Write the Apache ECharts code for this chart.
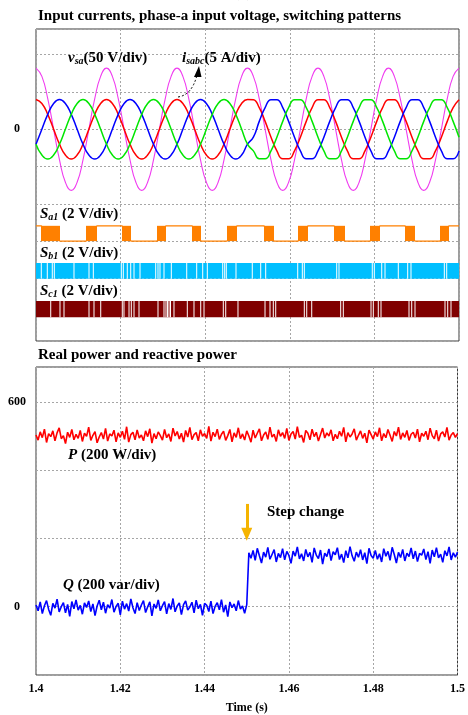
<!DOCTYPE html>
<html>
<head>
<meta charset="utf-8">
<script src="https://cdn.jsdelivr.net/npm/echarts@6/dist/echarts.min.js"></script>
<style>
  html, body { margin: 0; padding: 0; background: #fff; }
  #chart { width: 468px; height: 715px; }
</style>
</head>
<body>
<div id="chart"></div>
<script>
// ---- captured signals ----------------------------------------------------
// time axis (s)
const timeTicks = [1.4, 1.42, 1.44, 1.46, 1.48, 1.5];

// phase-a voltage and line currents, 12 samples per 60 Hz cycle
const waveStart = 1.4;
const waveStep = 1 / 720;
const vsa = [
  82, 71, 41, 0, -41, -71, -82, -71, -41, 0, 41, 71,
  82, 71, 41, 0, -41, -71, -82, -71, -41, 0, 41, 71,
  82, 71, 41, 0, -41, -71, -82, -71, -41, 0, 41, 71,
  82, 71, 41, 0, -41, -71, -82, -71, -41, 0, 41, 71,
  82, 71, 41, 0, -41, -71, -82, -71, -41, 0, 41, 71,
  82, 71, 41, 0, -41, -71, -82, -71, -41, 0, 41, 71,
  82
];
const ia = [
  4, 3.46, 2, 0, -2, -3.46, -4, -3.46, -2, 0, 2, 3.46,
  4, 3.46, 2, 0, -2, -3.46, -4, -3.46, -2, 0, 2, 3.46,
  4, 3.46, 2, 0, -2, -3.46, -4, -3.46, -2, 0, 2, 3.46,
  4, 3.96, 2.9, 1.06, -1.06, -2.9, -3.96, -3.96, -2.9, -1.06, 1.06, 2.9,
  3.96, 3.96, 2.9, 1.06, -1.06, -2.9, -3.96, -3.96, -2.9, -1.06, 1.06, 2.9,
  3.96, 3.96, 2.9, 1.06, -1.06, -2.9, -3.96, -3.96, -2.9, -1.06, 1.06, 2.9,
  3.96
];
const ib = [
  -2, 0, 2, 3.46, 4, 3.46, 2, 0, -2, -3.46, -4, -3.46,
  -2, 0, 2, 3.46, 4, 3.46, 2, 0, -2, -3.46, -4, -3.46,
  -2, 0, 2, 3.46, 4, 3.46, 2, 0, -2, -3.46, -4, -3.46,
  -2, -1.06, 1.06, 2.9, 3.96, 3.96, 2.9, 1.06, -1.06, -2.9, -3.96, -3.96,
  -2.9, -1.06, 1.06, 2.9, 3.96, 3.96, 2.9, 1.06, -1.06, -2.9, -3.96, -3.96,
  -2.9, -1.06, 1.06, 2.9, 3.96, 3.96, 2.9, 1.06, -1.06, -2.9, -3.96, -3.96,
  -2.9
];
const ic = [
  -2, -3.46, -4, -3.46, -2, 0, 2, 3.46, 4, 3.46, 2, 0,
  -2, -3.46, -4, -3.46, -2, 0, 2, 3.46, 4, 3.46, 2, 0,
  -2, -3.46, -4, -3.46, -2, 0, 2, 3.46, 4, 3.46, 2, 0,
  -2, -2.9, -3.96, -3.96, -2.9, -1.06, 1.06, 2.9, 3.96, 3.96, 2.9, 1.06,
  -1.06, -2.9, -3.96, -3.96, -2.9, -1.06, 1.06, 2.9, 3.96, 3.96, 2.9, 1.06,
  -1.06, -2.9, -3.96, -3.96, -2.9, -1.06, 1.06, 2.9, 3.96, 3.96, 2.9, 1.06,
  -1.06
];
const voltsPerDiv = 50;
const ampsPerDiv = 5;

// switch S_a1: windows of fast switching (s) and the level held between them
const sa1Windows = [
  [1.40118, 1.40567], [1.41182, 1.41442], [1.42033, 1.42246], [1.42861, 1.43073],
  [1.43688, 1.43901], [1.44515, 1.44752], [1.45390, 1.45626], [1.46194, 1.46430],
  [1.47045, 1.47305], [1.47896, 1.48132], [1.48723, 1.48960], [1.49551, 1.49764]
];
const sa1Held = [1, 0, 1, 0, 1, 0, 1, 0, 1, 0, 1, 0, 1];

// switches S_b1 and S_c1: instants where the gate stays off (s)
const sb1Gaps = [
  1.40125, 1.40267, 1.40385, 1.40433, 1.40898, 1.41253, 1.41355, 1.42017, 1.42064,
  1.42158, 1.42239, 1.42317, 1.42459, 1.42830, 1.42884, 1.42931, 1.43026, 1.43199,
  1.43563, 1.43799, 1.43941, 1.44050, 1.44414, 1.44461, 1.44499, 1.44728, 1.45113,
  1.45312, 1.45430, 1.46187, 1.46296, 1.46343, 1.47109, 1.47163, 1.47950, 1.47998,
  1.48173, 1.48251, 1.48565, 1.48787, 1.48865, 1.49653, 1.49709
];
const sc1Gaps = [
  1.40348, 1.40567, 1.40662, 1.41253, 1.41371, 1.41530, 1.42040, 1.42080, 1.42199,
  1.42253, 1.42317, 1.42435, 1.42884, 1.43026, 1.43073, 1.43109, 1.43144, 1.43180,
  1.43262, 1.43577, 1.43735, 1.43894, 1.43972, 1.44428, 1.44485, 1.44775, 1.45414,
  1.45532, 1.45610, 1.45667, 1.46343, 1.46400, 1.46518, 1.47203, 1.47265, 1.47920,
  1.47974, 1.48092, 1.48156, 1.48818, 1.48882, 1.48960, 1.49669, 1.49733, 1.49811
];

// real (W) and reactive (var) power, one sample every 0.5 ms
const powerStart = 1.4;
const powerStep = 0.0005;
const realPower = [
  503, 488, 512, 495, 520, 481, 507, 498, 515, 486, 509, 524, 492, 501, 478, 511, 496, 519, 489, 505,
  493, 516, 484, 508, 499, 526, 487, 502, 513, 480, 497, 510, 491, 522, 485, 506, 500, 517, 483, 509,
  496, 514, 490, 527, 482, 504, 511, 489, 518, 494, 503, 486, 515, 498, 521, 479, 507, 492, 512, 501,
  488, 519, 495, 506, 484, 523, 500, 513, 491, 508, 482, 516, 497, 525, 489, 504, 510, 486, 518, 499,
  507, 493, 528, 485, 511, 498, 520, 490, 505, 514, 487, 501, 519, 483, 509, 496, 524, 492, 506, 488,
  515, 500, 482, 517, 494, 508, 521, 486, 503, 512, 490, 526, 497, 505, 484, 518, 499, 510, 493, 522,
  487, 506, 513, 491, 527, 496, 502, 481, 516, 508, 489, 520, 498, 511, 485, 504, 523, 494, 509, 500,
  518, 486, 505, 492, 514, 499, 525, 483, 510, 497, 506, 521, 488, 502, 515, 493, 508, 480, 517, 504,
  491, 512, 498, 524, 486, 507, 495, 519, 502, 484, 513, 500, 526, 490, 509, 496, 516, 487, 505, 511,
  494, 520, 483, 508, 499, 514, 489, 523, 501, 492, 517, 485, 506, 512, 497, 525, 488, 503, 510, 496,
  507
];
const reactivePower = [
  5, -12, 14, -20, 3, 18, -8, -25, 10, -4, 22, -15, 0, 12, -18, 7, -28, 15, -6, 20,
  -10, 4, -22, 11, -2, 17, -14, 8, -26, 2, 19, -9, 13, -19, 6, -4, 21, -16, 1, 10,
  -24, 16, -7, 9, -13, 23, -3, -20, 12, -11, 5, 18, -17, 0, 14, -27, 8, -5, 20, -12,
  3, 15, -21, 9, -8, 24, -15, 2, 11, -23, 6, 17, -10, -1, 13, -18, 19, -6, 7, -25,
  10, 4, -14, 16, -20, 1, 12, -9, 21, -16, 5, -29, 14, -3, 8, -12, 18, -7, 2, -19, 6,
  158, 142, 165, 136, 171, 149, 128, 160, 145, 174, 139, 153, 167, 131, 156, 144, 170, 137, 162, 150,
  127, 163, 148, 175, 140, 155, 134, 168, 146, 159, 130, 172, 151, 141, 166, 125, 157, 147, 169, 135,
  161, 152, 173, 138, 154, 129, 164, 143, 176, 149, 133, 160, 145, 167, 137, 158, 126, 171, 150, 142,
  165, 139, 155, 131, 170, 148, 162, 136, 174, 153, 128, 159, 144, 168, 134, 157, 147, 172, 140, 163,
  132, 156, 151, 169, 138, 161, 127, 166, 146, 173, 143, 154, 130, 164, 149, 175, 137, 158, 145, 160
];
// instant of the reactive-power reference step (s)
const stepTime = 1.45;

// ---- drawing --------------------------------------------------------------
const serif = "'Liberation Serif', 'Times New Roman', serif";
const tMin = timeTicks[0];
const tMax = timeTicks[timeTicks.length - 1];
const tInterval = +(timeTicks[1] - timeTicks[0]).toFixed(4);

// vertical placement of the gate traces in the upper panel (divisions)
const lanes = {
  sa1: { low: -3.0, high: -2.59 },
  sb1: { low: -4.01, high: -3.59 },
  sc1: { low: -5.04, high: -4.61 }
};

const waveTime = i => waveStart + i * waveStep;
const powerTime = i => powerStart + i * powerStep;

const vsaData = vsa.map((v, i) => [waveTime(i), v / voltsPerDiv]);
const iaData = ia.map((v, i) => [waveTime(i), v / ampsPerDiv]);
const ibData = ib.map((v, i) => [waveTime(i), v / ampsPerDiv]);
const icData = ic.map((v, i) => [waveTime(i), v / ampsPerDiv]);
const pData = realPower.map((v, i) => [powerTime(i), v]);
const qData = reactivePower.map((v, i) => [powerTime(i), v]);

// held levels of S_a1 between its switching windows
const sa1Line = [];
sa1Held.forEach((lvl, i) => {
  const from = i === 0 ? tMin : sa1Windows[i - 1][1];
  const to = i === sa1Windows.length ? tMax : sa1Windows[i][0];
  const y = lvl ? lanes.sa1.high : lanes.sa1.low;
  sa1Line.push([from, y], [to, y]);
});

function windowRenderer(lane, color) {
  return function (params, api) {
    const a = api.coord([api.value(0), lane.high]);
    const b = api.coord([api.value(1), lane.low]);
    return {
      type: 'rect',
      shape: { x: a[0], y: a[1], width: Math.max(b[0] - a[0], 1), height: b[1] - a[1] },
      style: { fill: color }
    };
  };
}
function gapRenderer(lane) {
  return function (params, api) {
    const a = api.coord([api.value(0), lane.high]);
    const b = api.coord([api.value(0), lane.low]);
    return {
      type: 'rect',
      shape: { x: a[0] - 0.5, y: a[1], width: 1, height: b[1] - a[1] },
      style: { fill: '#ffffff' }
    };
  };
}

const gridLine = { show: true, lineStyle: { color: '#a6a6a6', type: [2, 2], width: 1 } };
const tickFont = { fontFamily: serif, fontWeight: 'bold', fontSize: 12, color: '#000' };

const main = { fontFamily: serif, fontWeight: 'bold', fontSize: 15, lineHeight: 17, fill: '#000' };
const rich = {
  it: Object.assign({}, main, { fontStyle: 'italic' }),
  sub: { fontFamily: serif, fontWeight: 'bold', fontStyle: 'italic', fontSize: 10, lineHeight: 10, verticalAlign: 'bottom', fill: '#000' },
  b: main
};
function label(x, y, text) {
  return { type: 'text', x: x, y: y, z: 50, style: { text: text, rich: rich, verticalAlign: 'middle', align: 'left' } };
}

const chart = echarts.init(document.getElementById('chart'), null, { renderer: 'canvas' });
chart.setOption({
  animation: false,
  backgroundColor: '#fff',
  grid: [
    { left: 36, top: 29, width: 423, height: 312, show: true, borderColor: '#3a3a3a', borderWidth: 1, backgroundColor: 'transparent' },
    { left: 36, top: 367, width: 423, height: 308, show: true, borderColor: '#3a3a3a', borderWidth: 1, backgroundColor: 'transparent' }
  ],
  xAxis: [
    { gridIndex: 0, type: 'value', min: tMin, max: tMax, interval: tInterval,
      axisLine: { show: false }, axisTick: { show: false }, axisLabel: { show: false }, splitLine: gridLine },
    { gridIndex: 1, type: 'value', min: tMin, max: tMax, interval: tInterval,
      axisLine: { show: false }, axisTick: { show: false },
      axisLabel: Object.assign({ margin: 8, formatter: v => String(+v.toFixed(2)) }, tickFont),
      splitLine: gridLine,
      name: 'Time (s)', nameLocation: 'middle', nameGap: 27,
      nameTextStyle: { fontFamily: serif, fontWeight: 'bold', fontSize: 12, color: '#000' } }
  ],
  yAxis: [
    { gridIndex: 0, type: 'value', min: -5.68, max: 2.69, splitNumber: 8,
      axisLine: { show: false }, axisTick: { show: false },
      axisLabel: Object.assign({ margin: 19, align: 'center', formatter: v => (v === 0 ? '0' : '') }, tickFont),
      splitLine: gridLine },
    { gridIndex: 1, type: 'value', min: -200, max: 702, interval: 200,
      axisLine: { show: false }, axisTick: { show: false },
      axisLabel: Object.assign({ margin: 19, align: 'center', formatter: v => (v === 0 || v === 600 ? String(v) : '') }, tickFont),
      splitLine: gridLine }
  ],
  series: [
    { name: 'vsa', type: 'line', xAxisIndex: 0, yAxisIndex: 0, data: vsaData, smooth: true, showSymbol: false,
      lineStyle: { color: '#f03cf0', width: 1.1 }, z: 3 },
    { name: 'ia', type: 'line', xAxisIndex: 0, yAxisIndex: 0, data: iaData, smooth: true, showSymbol: false,
      lineStyle: { color: '#ff0000', width: 1.5 }, z: 4 },
    { name: 'ib', type: 'line', xAxisIndex: 0, yAxisIndex: 0, data: ibData, smooth: true, showSymbol: false,
      lineStyle: { color: '#0000ff', width: 1.5 }, z: 4 },
    { name: 'ic', type: 'line', xAxisIndex: 0, yAxisIndex: 0, data: icData, smooth: true, showSymbol: false,
      lineStyle: { color: '#00e600', width: 1.5 }, z: 4 },
    { name: 'Sa1 level', type: 'line', xAxisIndex: 0, yAxisIndex: 0, data: sa1Line, showSymbol: false,
      lineStyle: { color: '#ff8000', width: 1.2 }, z: 5 },
    { name: 'Sa1 switching', type: 'custom', xAxisIndex: 0, yAxisIndex: 0, data: sa1Windows,
      renderItem: windowRenderer(lanes.sa1, '#ff8000'), z: 6 },
    { name: 'Sb1', type: 'custom', xAxisIndex: 0, yAxisIndex: 0, data: [[tMin, tMax]],
      renderItem: windowRenderer(lanes.sb1, '#00bfff'), z: 5 },
    { name: 'Sb1 off', type: 'custom', xAxisIndex: 0, yAxisIndex: 0, data: sb1Gaps.map(t => [t]),
      renderItem: gapRenderer(lanes.sb1), z: 6 },
    { name: 'Sc1', type: 'custom', xAxisIndex: 0, yAxisIndex: 0, data: [[tMin, tMax]],
      renderItem: windowRenderer(lanes.sc1, '#800000'), z: 5 },
    { name: 'Sc1 off', type: 'custom', xAxisIndex: 0, yAxisIndex: 0, data: sc1Gaps.map(t => [t]),
      renderItem: gapRenderer(lanes.sc1), z: 6 },
    { name: 'P', type: 'line', xAxisIndex: 1, yAxisIndex: 1, data: pData, showSymbol: false,
      lineStyle: { color: '#ff0000', width: 1.6 }, z: 3 },
    { name: 'Q', type: 'line', xAxisIndex: 1, yAxisIndex: 1, data: qData, showSymbol: false,
      lineStyle: { color: '#0000ff', width: 1.6 }, z: 3,
      markLine: {
        silent: true, symbol: ['none', 'triangle'], symbolSize: [11, 13],
        label: { show: false },
        lineStyle: { color: '#f5b400', width: 3, type: 'solid' },
        data: [[{ coord: [stepTime, 301] }, { coord: [stepTime, 212] }]]
      } }
  ],
  graphic: [
    { type: 'text', x: 243, y: 1, style: { text: '(a)', font: 'bold 15px ' + serif, fill: '#000', align: 'center', verticalAlign: 'bottom' } },
    { type: 'text', x: 38, y: 16, style: { text: 'Input currents, phase-a input voltage, switching patterns', font: 'bold 15px ' + serif, fill: '#000', verticalAlign: 'middle' } },
    { type: 'text', x: 38, y: 355, style: { text: 'Real power and reactive power', font: 'bold 15px ' + serif, fill: '#000', verticalAlign: 'middle' } },
    label(68, 58, '{it|v}{sub|sa}{b|(50 V/div)}'),
    label(182, 58, '{it|i}{sub|sabc}{b|(5 A/div)}'),
    label(40, 214, '{it|S}{sub|a1}{b| (2 V/div)}'),
    label(40, 253, '{it|S}{sub|b1}{b| (2 V/div)}'),
    label(40, 291, '{it|S}{sub|c1}{b| (2 V/div)}'),
    label(68, 455, '{it|P}{b| (200 W/div)}'),
    label(63, 585, '{it|Q}{b| (200 var/div)}'),
    label(267, 512, '{b|Step change}'),
    { type: 'bezierCurve', z: 50, shape: { x1: 178, y1: 97, cpx1: 192, cpy1: 95, x2: 197, y2: 75 },
      style: { stroke: '#000', lineWidth: 1, lineDash: [2, 2], fill: null } },
    { type: 'polygon', z: 50, shape: { points: [[199, 66], [194, 77], [201.5, 77]] }, style: { fill: '#000' } }
  ]
});
</script>
</body>
</html>
